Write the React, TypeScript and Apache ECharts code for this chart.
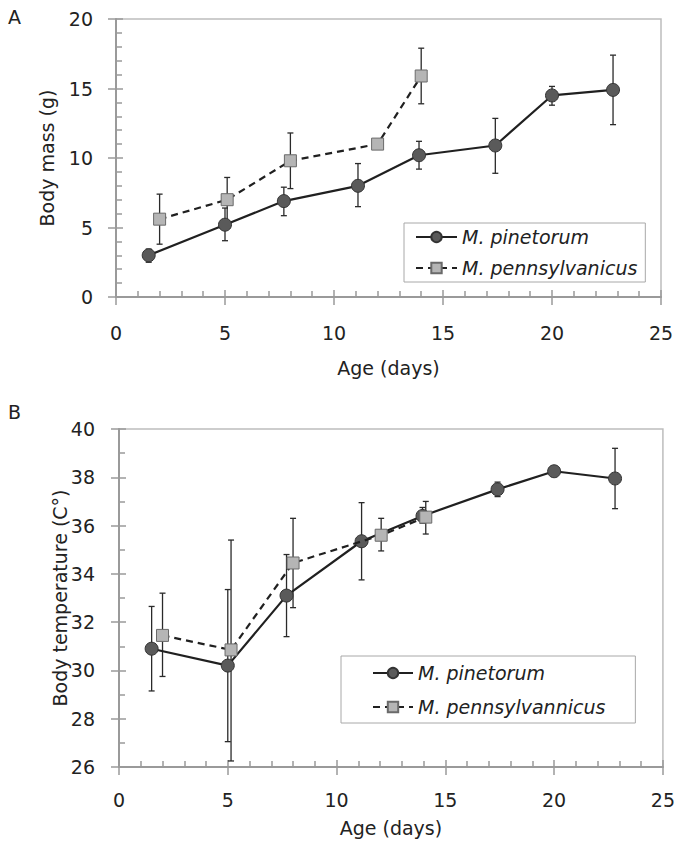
import React, { useEffect, useRef } from "react";
import * as echarts from "echarts";

// ---- Panel A: body mass (g) ----
const massPinAge = [1.5, 5.0, 7.7, 11.1, 13.9, 17.4, 20.0, 22.8];
const massPin = [3.0, 5.2, 6.9, 8.0, 10.2, 10.9, 14.5, 14.9];
const massPinLow = [2.5, 4.05, 5.85, 6.5, 9.2, 8.9, 13.8, 12.4];
const massPinHigh = [3.45, 6.4, 7.9, 9.6, 11.2, 12.85, 15.15, 17.4];

const massPenAge = [2.0, 5.1, 8.0, 12.0, 14.0];
const massPen = [5.6, 7.0, 9.8, 11.0, 15.9];
const massPenLow = [3.8, 5.4, 7.8, 10.9, 13.9];
const massPenHigh = [7.4, 8.6, 11.8, 11.1, 17.9];

// ---- Panel B: body temperature (C°) ----
const tempPinAge = [1.5, 5.0, 7.7, 11.15, 13.95, 17.4, 20.0, 22.8];
const tempPin = [30.9, 30.2, 33.1, 35.35, 36.4, 37.5, 38.25, 37.95];
const tempPinLow = [29.15, 27.05, 31.4, 33.75, 36.1, 37.2, 38.05, 36.7];
const tempPinHigh = [32.65, 33.35, 34.8, 36.95, 36.75, 37.8, 38.45, 39.2];

const tempPenAge = [2.0, 5.15, 8.0, 12.05, 14.1];
const tempPen = [31.45, 30.85, 34.45, 35.6, 36.35];
const tempPenLow = [29.75, 26.25, 32.6, 34.95, 35.65];
const tempPenHigh = [33.2, 35.4, 36.3, 36.3, 37.0];

// ---- labels ----
const xTitle = "Age (days)";
const yTitleA = "Body mass (g)";
const yTitleB = "Body temperature (C°)";
const pinName = "M. pinetorum";
const penNameA = "M. pennsylvanicus";
const penNameB = "M. pennsylvannicus";

const FONT = "DejaVu Sans";
const AXIS_GRAY = "#9a9a9a";
const TEXT = "#222222";

const pts = (ages: number[], vals: number[]) => ages.map((a, i) => [a, vals[i]]);
const errs = (ages: number[], lo: number[], hi: number[]) =>
  ages.map((a, i) => [a, lo[i], hi[i]]);

const renderErr = (_params: any, api: any) => {
  const x = api.value(0);
  const p1 = api.coord([x, api.value(1)]);
  const p2 = api.coord([x, api.value(2)]);
  const cap = 3;
  const style = { stroke: "#2a2a2a", lineWidth: 1.3 };
  return {
    type: "group",
    children: [
      { type: "line", shape: { x1: p1[0], y1: p1[1], x2: p2[0], y2: p2[1] }, style },
      { type: "line", shape: { x1: p1[0] - cap, y1: p1[1], x2: p1[0] + cap, y2: p1[1] }, style },
      { type: "line", shape: { x1: p2[0] - cap, y1: p2[1], x2: p2[0] + cap, y2: p2[1] }, style },
    ],
  };
};

const tickStyle = { color: AXIS_GRAY, width: 1.5 };

const xMain = (gridIndex: number, nameGap: number, margin: number) => ({
  type: "value",
  gridIndex,
  position: "bottom",
  min: 0,
  max: 25,
  interval: 5,
  name: xTitle,
  nameLocation: "middle",
  nameGap,
  nameMoveOverlap: false,
  nameTextStyle: { fontFamily: FONT, fontSize: 19, color: TEXT },
  axisLine: { show: true, onZero: false, lineStyle: { color: AXIS_GRAY, width: 2 } },
  axisTick: { show: true, inside: false, length: 8, lineStyle: tickStyle },
  axisLabel: { margin, fontFamily: FONT, fontSize: 19, color: TEXT },
  splitLine: { show: false },
});

const xMinor = (gridIndex: number) => ({
  type: "value",
  gridIndex,
  position: "bottom",
  min: 0,
  max: 25,
  interval: 5,
  axisLine: { show: false, onZero: false },
  axisTick: { show: true, inside: true, length: 7, lineStyle: tickStyle },
  minorTick: { show: true, splitNumber: 5, length: 6, lineStyle: tickStyle },
  axisLabel: { show: false },
  splitLine: { show: false },
});

const yMain = (gridIndex: number, min: number, max: number, interval: number, name: string, nameGap: number, margin: number) => ({
  type: "value",
  gridIndex,
  position: "left",
  min,
  max,
  interval,
  name,
  nameLocation: "middle",
  nameGap,
  nameMoveOverlap: false,
  nameTextStyle: { fontFamily: FONT, fontSize: 19, color: TEXT },
  axisLine: { show: true, onZero: false, lineStyle: { color: AXIS_GRAY, width: 2 } },
  axisTick: { show: true, inside: false, length: 8, lineStyle: tickStyle },
  axisLabel: { margin, fontFamily: FONT, fontSize: 19, color: TEXT },
  splitLine: { show: false },
});

const yMinor = (gridIndex: number, min: number, max: number, interval: number, split: number) => ({
  type: "value",
  gridIndex,
  position: "left",
  min,
  max,
  interval,
  axisLine: { show: false, onZero: false },
  axisTick: { show: true, inside: true, length: 7, lineStyle: tickStyle },
  minorTick: { show: true, splitNumber: split, length: 6, lineStyle: tickStyle },
  axisLabel: { show: false },
  splitLine: { show: false },
});

const pinStyle = {
  type: "line",
  symbol: "circle",
  symbolSize: 13,
  lineStyle: { color: "#202020", width: 2.2, type: "solid" },
  itemStyle: { color: "#5a5a5a", borderColor: "#333333", borderWidth: 1 },
};
const penStyle = {
  type: "line",
  symbol: "rect",
  symbolSize: 12,
  lineStyle: { color: "#202020", width: 2.2, type: [7, 5] },
  itemStyle: { color: "#b5b5b5", borderColor: "#6a6a6a", borderWidth: 1 },
};

const legendText = { fontFamily: FONT, fontStyle: "italic", fontSize: 19, color: TEXT, lineHeight: 20 };

export default function App() {
  const ref = useRef<HTMLDivElement>(null);
  useEffect(() => {
    if (!ref.current) return;
    const chart = echarts.init(ref.current, null, { renderer: "svg" });
    chart.setOption({
      animation: false,
      backgroundColor: "#ffffff",
      grid: [
        { left: 116, right: 17, top: 19, height: 278, show: true, borderColor: "#bdbdbd", borderWidth: 1.5 },
        { left: 119, right: 14, top: 429, height: 338, show: true, borderColor: "#bdbdbd", borderWidth: 1.5 },
      ],
      xAxis: [xMain(0, 61, 26), xMinor(0), xMain(1, 51, 23), xMinor(1)],
      yAxis: [
        yMain(0, 0, 20, 5, yTitleA, 60, 23),
        yMain(1, 26, 40, 2, yTitleB, 50, 24),
        yMinor(0, 0, 20, 5, 5),
        yMinor(1, 26, 40, 2, 2),
      ],
      legend: [
        {
          data: [pinName, penNameA],
          orient: "vertical",
          left: 404,
          top: 223,
          padding: [4, 8, 4, 11],
          itemGap: 11,
          itemWidth: 41,
          itemHeight: 13,
          borderColor: "#a8a8a8",
          borderWidth: 1,
          selectedMode: false,
          textStyle: legendText,
        },
        {
          data: [pinName, penNameB],
          orient: "vertical",
          left: 341,
          top: 656,
          padding: [7, 30, 6, 31],
          itemGap: 14,
          itemWidth: 40,
          itemHeight: 13,
          borderColor: "#a8a8a8",
          borderWidth: 1,
          selectedMode: false,
          textStyle: legendText,
        },
      ],
      graphic: [
        { type: "text", left: 8, top: 7, style: { text: "A", font: `19px "${FONT}"`, fill: TEXT } },
        { type: "text", left: 8, top: 402, style: { text: "B", font: `19px "${FONT}"`, fill: TEXT } },
      ],
      series: [
        { type: "custom", xAxisIndex: 0, yAxisIndex: 0, renderItem: renderErr, data: errs(massPinAge, massPinLow, massPinHigh), encode: { x: 0, y: [1, 2] }, z: 1 },
        { type: "custom", xAxisIndex: 0, yAxisIndex: 0, renderItem: renderErr, data: errs(massPenAge, massPenLow, massPenHigh), encode: { x: 0, y: [1, 2] }, z: 1 },
        { ...pinStyle, name: pinName, xAxisIndex: 0, yAxisIndex: 0, data: pts(massPinAge, massPin), z: 3 },
        { ...penStyle, name: penNameA, xAxisIndex: 0, yAxisIndex: 0, data: pts(massPenAge, massPen), z: 4 },

        { type: "custom", xAxisIndex: 2, yAxisIndex: 1, renderItem: renderErr, data: errs(tempPinAge, tempPinLow, tempPinHigh), encode: { x: 0, y: [1, 2] }, z: 1 },
        { type: "custom", xAxisIndex: 2, yAxisIndex: 1, renderItem: renderErr, data: errs(tempPenAge, tempPenLow, tempPenHigh), encode: { x: 0, y: [1, 2] }, z: 1 },
        { ...pinStyle, name: pinName, xAxisIndex: 2, yAxisIndex: 1, data: pts(tempPinAge, tempPin), z: 3 },
        { ...penStyle, name: penNameB, xAxisIndex: 2, yAxisIndex: 1, data: pts(tempPenAge, tempPen), z: 4 },
      ],
    });
    return () => chart.dispose();
  }, []);
  return (
    <div
      ref={ref}
      style={{ position: "absolute", left: 0, top: 0, width: 678, height: 845, background: "#fff" }}
    />
  );
}
